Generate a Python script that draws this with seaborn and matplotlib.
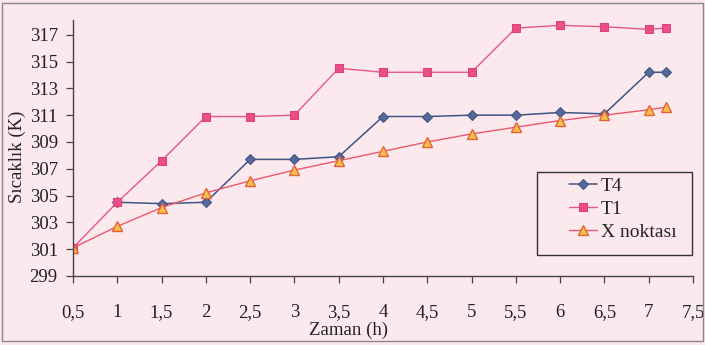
import matplotlib
matplotlib.use("Agg")
import matplotlib.pyplot as plt
import seaborn as sns
import numpy as np
import pandas as pd
from matplotlib.patches import Rectangle

# ---- data ----
time_h = [0.5, 1, 1.5, 2, 2.5, 3, 3.5, 4, 4.5, 5, 5.5, 6, 6.5, 7, 7.2]
t4 = [np.nan, 304.5, 304.4, 304.5, 307.7, 307.7, 307.9, 310.9, 310.9, 311.0, 311.0, 311.2, 311.1, 314.2, 314.2]
t1 = [301.1, 304.5, 307.6, 310.9, 310.9, 311.0, 314.5, 314.2, 314.2, 314.2, 317.5, 317.7, 317.6, 317.4, 317.5]
x_noktasi = [301.1, 302.7, 304.1, 305.2, 306.1, 306.9, 307.6, 308.3, 309.0, 309.6, 310.1, 310.6, 311.0, 311.4, 311.6]
series_names = ["T4", "T1", "X noktası"]
x_ticks = [0.5, 1, 1.5, 2, 2.5, 3, 3.5, 4, 4.5, 5, 5.5, 6, 6.5, 7, 7.5]
y_ticks = [299, 301, 303, 305, 307, 309, 311, 313, 315, 317]
x_label = "Zaman (h)"
y_label = "Sıcaklık (K)"

df = pd.DataFrame({"Zaman": time_h, "T4": t4, "T1": t1, "X noktası": x_noktasi})

sns.set_theme(style="white")
plt.rcParams["font.family"] = ["Liberation Serif", "DejaVu Serif"]

bg = "#fbe9ed"
fig = plt.figure(figsize=(7.05, 3.45), dpi=100, facecolor=bg)
ax = fig.add_axes([0.1035, 0.2, 0.8795, 0.742])
ax.set_facecolor("none")

styles = {
    "T4": dict(color="#3f5585", marker="D", markersize=5.5, markerfacecolor="#55699a",
               markeredgecolor="#3f5585", linewidth=1.1),
    "T1": dict(color="#e8558c", marker="s", markersize=6, markerfacecolor="#ea4f8a",
               markeredgecolor="#e0407a", linewidth=1.0),
    "X noktası": dict(color="#e85a68", marker="^", markersize=7, markerfacecolor="#f7c24a",
                      markeredgecolor="#e8603a", markeredgewidth=1.0, linewidth=1.0),
}

for name in series_names:
    sub = df[["Zaman", name]].dropna()
    sns.lineplot(data=sub, x="Zaman", y=name, ax=ax, label=name, **styles[name])

ax.set_xlim(0.5, 7.5)
ax.set_ylim(299, 318.1)
ax.set_xticks(x_ticks)
ax.set_xticklabels([f"{v:g}".replace(".", ",") for v in x_ticks])
ax.set_yticks(y_ticks)
ax.set_yticklabels([str(v) for v in y_ticks])

for s in ["top", "right"]:
    ax.spines[s].set_visible(False)
for s in ["left", "bottom"]:
    ax.spines[s].set_color("#444444")
    ax.spines[s].set_linewidth(1.0)

ax.tick_params(axis="x", direction="out", length=5, width=0.9, color="#444444",
               pad=15, labelsize=13.5, labelcolor="#222222", bottom=True)
ax.tick_params(axis="y", direction="out", length=5, width=0.9, color="#444444",
               pad=6, labelsize=13.5, labelcolor="#222222", left=True)

ax.set_xlabel(x_label, fontsize=13.5, color="#222222")
ax.set_ylabel(y_label, fontsize=13.5, color="#222222")
ax.xaxis.set_label_coords(0.444, -0.178)
ax.yaxis.set_label_coords(-0.076, 0.465)

leg = ax.legend(loc="upper left", bbox_to_anchor=(0.80, 0.385), frameon=False,
                fontsize=14, handlelength=1.45, handletextpad=0.2,
                labelspacing=0.28, borderpad=0, borderaxespad=0)

# legend frame box
ax.add_patch(Rectangle((0.748, 0.082), 0.25, 0.324, transform=ax.transAxes,
                       fill=False, edgecolor="#333333", linewidth=1.0, clip_on=False))

fig.patches.append(Rectangle((0.003, 0.012), 0.994, 0.98, transform=fig.transFigure,
                             fill=False, edgecolor="#888888", linewidth=1.0))

fig.savefig("out.png", dpi=100, facecolor=bg)
